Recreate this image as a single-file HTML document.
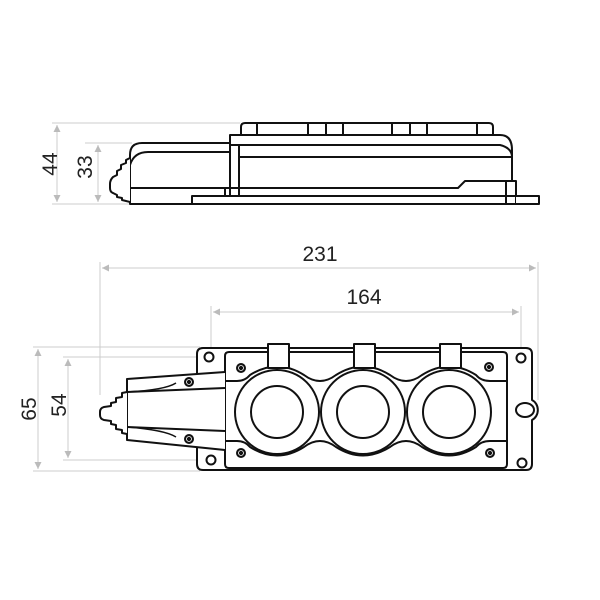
<!DOCTYPE html>
<html><head><style>body{margin:0;background:#fff}svg{display:block}</style></head><body>
<svg width="600" height="600" viewBox="0 0 600 600" xmlns="http://www.w3.org/2000/svg" font-family="Liberation Sans, sans-serif">
<defs>
<marker id="a" viewBox="0 0 10 10" refX="10" refY="5" markerWidth="7" markerHeight="9" orient="auto-start-reverse" markerUnits="userSpaceOnUse"><path d="M0,0L10,5L0,10z" fill="#bbb"/></marker>
</defs>
<g stroke="#ccc" stroke-width="1" fill="none">
<line x1="52" y1="123" x2="240" y2="123"/><line x1="85" y1="143" x2="132" y2="143"/><line x1="52" y1="204" x2="130" y2="204"/>
<line x1="57" y1="125" x2="57" y2="202" marker-start="url(#a)" marker-end="url(#a)"/>
<line x1="98" y1="145" x2="98" y2="202" marker-start="url(#a)" marker-end="url(#a)"/>
<line x1="100" y1="262" x2="100" y2="395"/><line x1="538" y1="262" x2="538" y2="400"/>
<line x1="211" y1="306" x2="211" y2="350"/><line x1="521" y1="306" x2="521" y2="352"/>
<line x1="102" y1="268" x2="536" y2="268" marker-start="url(#a)" marker-end="url(#a)"/>
<line x1="213" y1="312" x2="519" y2="312" marker-start="url(#a)" marker-end="url(#a)"/>
<line x1="33" y1="347" x2="200" y2="347"/><line x1="63" y1="357" x2="228" y2="357"/>
<line x1="63" y1="460" x2="228" y2="460"/><line x1="33" y1="471" x2="200" y2="471"/>
<line x1="38" y1="349" x2="38" y2="469" marker-start="url(#a)" marker-end="url(#a)"/>
<line x1="68" y1="359" x2="68" y2="458" marker-start="url(#a)" marker-end="url(#a)"/>
</g>
<g font-size="21" fill="#222" text-anchor="middle">
<text x="50" y="164" transform="rotate(-90 50 164)" dy="7">44</text>
<text x="85" y="167" transform="rotate(-90 85 167)" dy="7">33</text>
<text x="320" y="261">231</text>
<text x="364" y="304">164</text>
<text x="29" y="409" transform="rotate(-90 29 409)" dy="7">65</text>
<text x="59" y="405" transform="rotate(-90 59 405)" dy="7">54</text>
</g>
<g stroke="#111" stroke-width="2" fill="#fff" stroke-linejoin="round">
<path d="M241,134 V127 Q241,123 245,123 H489 Q493,123 493,127 V134"/>
<path d="M257,123V134M308,123V134M326,123V134M343,123V134M392,123V134M410,123V134M427,123V134M477,123V134" fill="none"/>
<path d="M130,204 V155 Q130,143 142,143 H230 V135 H500 Q512,135 512,150 V181 H516 V204 Z"/>
<path d="M130,165 Q134,152 148,152 H230" fill="none"/>
<path d="M230,145 H500 Q512,148 512,157 M239,157 H512" fill="none"/>
<path d="M130,188 H458 L465,181 H512 M192,204 V196 H516" fill="none"/>
<path d="M230,135V196M239,145V196M225,188V196M506,181V204M506,196H516" fill="none"/>
<path d="M516,196 H539 V204 H516" />
<path d="M130,158 L126,160 V163 L121,165 V169 L117,171 V175 L113,177 Q110,180 110,184 V188 Q110,192 113,193 L117,195 V197 L122,198 V200 L126,201 L130,202" />
</g>
<g stroke="#111" stroke-width="2" fill="#fff" stroke-linejoin="round">
<path d="M203,348 H526 Q532,348 532,354 V400 A10,11 0 0 1 532,420 V464 Q532,470 526,470 H203 Q197,470 197,464 V354 Q197,348 203,348 Z"/>
<ellipse cx="525" cy="410" rx="9" ry="7"/>
<circle cx="209" cy="357" r="4.5"/><circle cx="211" cy="460" r="4.5"/>
<circle cx="521" cy="358" r="4.5"/><circle cx="522" cy="463" r="4.5"/>
<path d="M229,352 H503 Q507,352 507,356 V464 Q507,468 503,468 H229 Q225,468 225,464 V356 Q225,352 229,352 Z"/>
<path d="M225,381 H237 Q245,381 250,375 Q277,358 304,375 Q312,381 320,381 Q328,381 336,375 Q363,358 390,375 Q398,381 406,381 Q414,381 422,375 Q449,358 476,375 Q481,381 490,381 H507" fill="none"/>
<path d="M225,441 H237 Q245,441 250,447 Q277,464 304,447 Q312,441 320,441 Q328,441 336,447 Q363,464 390,447 Q398,441 406,441 Q414,441 422,447 Q449,464 476,447 Q481,441 490,441 H507" fill="none"/>
<circle cx="277" cy="412" r="42"/><circle cx="363" cy="412" r="42"/><circle cx="449" cy="412" r="42"/>
<circle cx="277" cy="412" r="26"/><circle cx="363" cy="412" r="26"/><circle cx="449" cy="412" r="26"/>
<rect x="268" y="344" width="21" height="24"/><rect x="354" y="344" width="21" height="24"/><rect x="440" y="344" width="21" height="24"/>
<path d="M225,372 L127,379 V440 L225,450"/>
<path d="M225,388 L127,392 M225,431 L127,427" fill="none"/>
<path d="M176,383 Q165,390 127,392 M176,437 Q165,430 127,427" fill="none" stroke-width="1.5"/>
<path d="M127,392 L122,393 V397 L116,398 V402 L111,403 V406 L104,407 Q100,408 100,412 V415 Q100,419 104,420 L111,421 V424 L116,425 V429 L122,430 V433 L127,434"/>
</g>
<g fill="#111"><circle cx="241" cy="368" r="5"/><circle cx="241" cy="453" r="5"/><circle cx="489" cy="367" r="5"/><circle cx="490" cy="453" r="5"/><circle cx="189" cy="382" r="5"/><circle cx="189" cy="439" r="5"/></g>
<g fill="none" stroke="#fff" stroke-width="0.8"><circle cx="241" cy="368" r="2.5"/><circle cx="241" cy="453" r="2.5"/><circle cx="489" cy="367" r="2.5"/><circle cx="490" cy="453" r="2.5"/><circle cx="189" cy="382" r="2.5"/><circle cx="189" cy="439" r="2.5"/></g>
</svg>
</body></html>
